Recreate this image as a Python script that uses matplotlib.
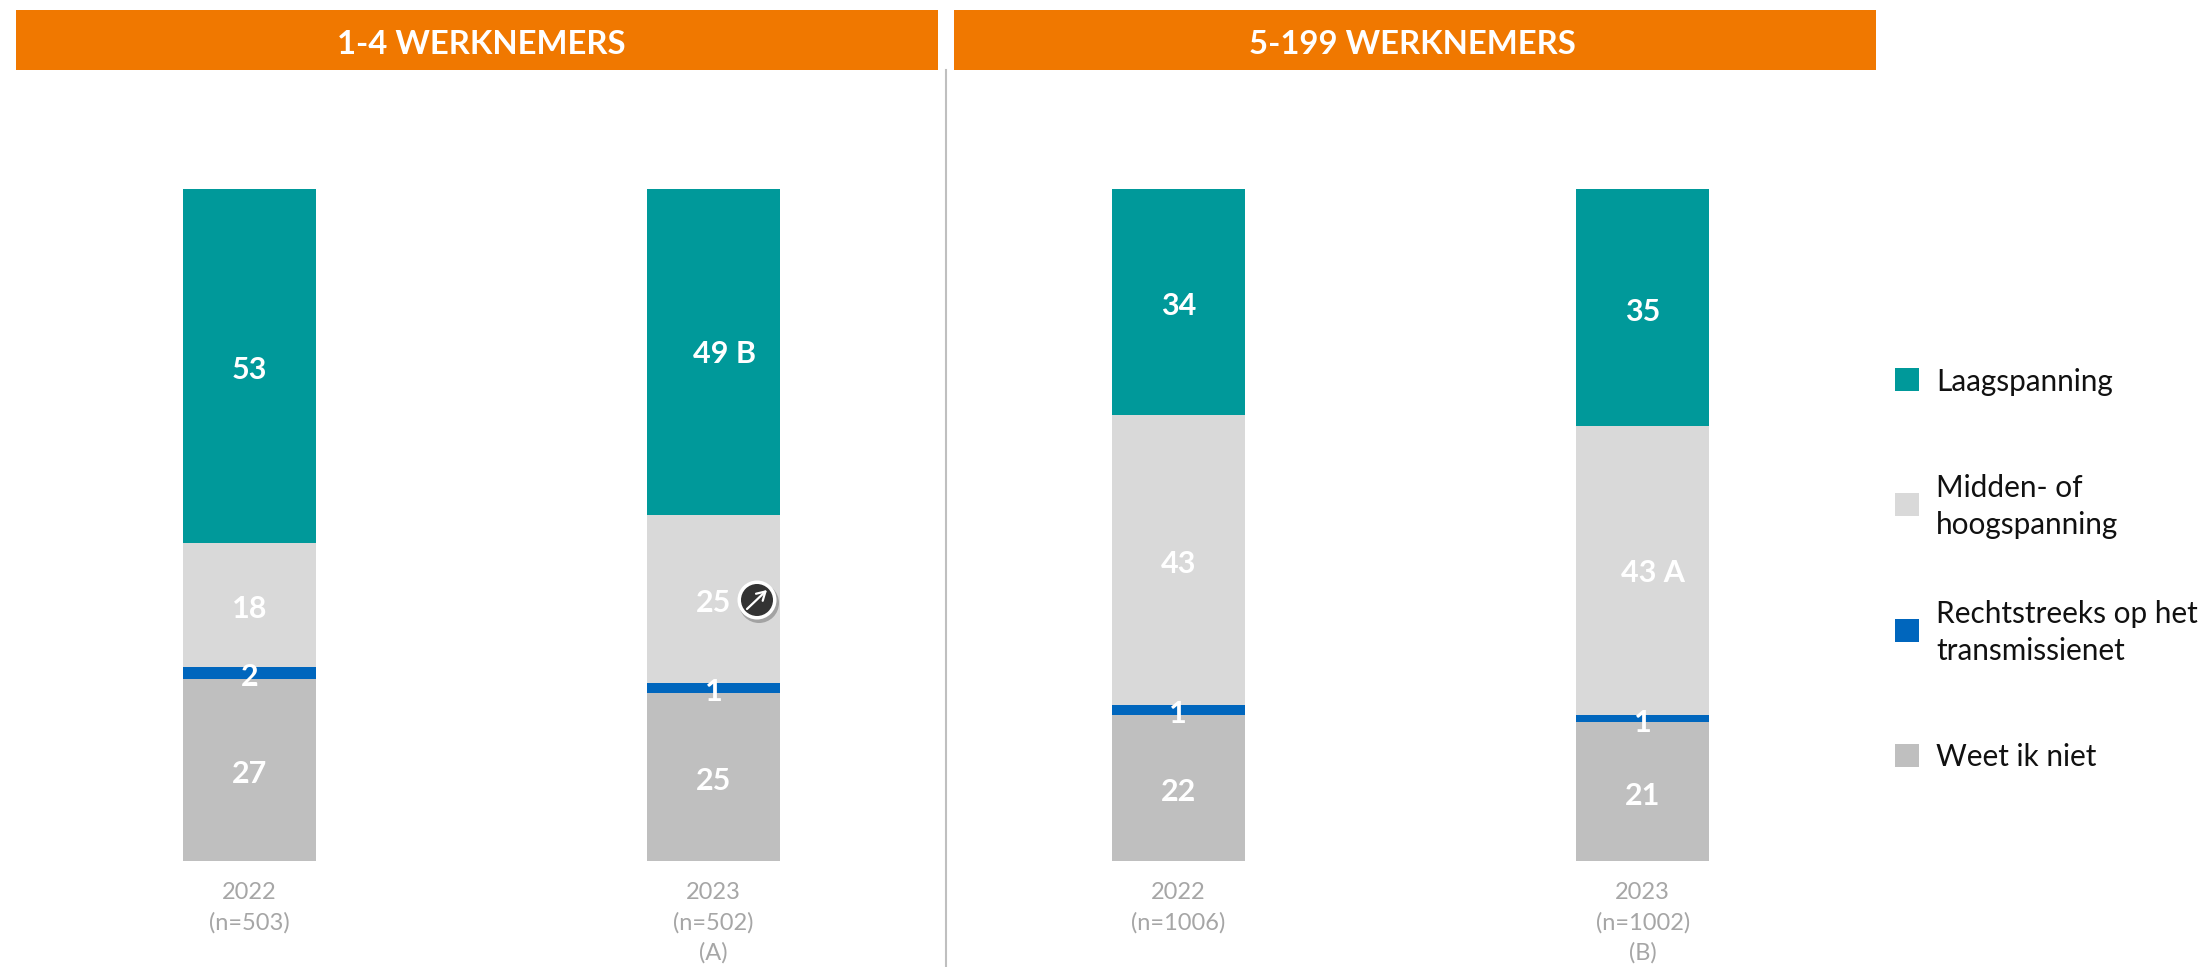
#!/usr/bin/env python3

import matplotlib

matplotlib.use("Agg")

import matplotlib.pyplot as plt
from matplotlib.patches import Circle, Rectangle

plt.rcParams["font.family"] = ["Lato", "DejaVu Sans"]

W, H = 2198, 967

tick_labels = ["2022\n(n=503)", "2023\n(n=502)\n(A)", "2022\n(n=1006)", "2023\n(n=1002)\n(B)"]
series_names = ["Weet ik niet", "Rechtstreeks op het\ntransmissienet", "Midden- of\nhoogspanning", "Laagspanning"]
colors = ["#BFBFBF", "#0066BD", "#D9D9D9", "#00999A"]

# stacked bottom to top, heights
weet_niet = [27.1, 25.0, 21.7, 20.7]
transmissie = [1.8, 1.5, 1.5, 1.0]
midden = [18.4, 25.0, 43.2, 43.0]
laag = [52.7, 48.5, 33.6, 35.3]

weet_labels = ["27", "25", "22", "21"]
transmissie_labels = ["2", "1", "1", "1"]
midden_labels = ["18", "25", "43", "43 A"]
laag_labels = ["53", "49 B", "34", "35"]

headers = ["1-4 WERKNEMERS", "5-199 WERKNEMERS"]

ORANGE = "#F07800"
TICK_GREY = "#A6A6A6"


def main() -> None:
    fig = plt.figure(figsize=(W / 100, H / 100), dpi=100, facecolor="white")

    # bars live in their own axes, overlay below uses pixel coordinates
    ax = fig.add_axes([17 / W, 1 - 861 / H, (1875 - 17) / W, (861 - 189) / H])
    x = list(range(len(tick_labels)))
    bottom = [0.0] * len(x)
    rows = [
        (weet_niet, weet_labels),
        (transmissie, transmissie_labels),
        (midden, midden_labels),
        (laag, laag_labels),
    ]
    for (vals, labs), name, col in zip(rows, series_names, colors):
        bars = ax.bar(x, vals, width=0.286, bottom=bottom, color=col, label=name)
        anns = ax.bar_label(bars, labels=labs, label_type="center", color="white",
                            fontsize=22, fontweight="bold", zorder=5)
        for ann, lab in zip(anns, labs):
            # labels with a letter sit a bit to the right in the original
            ann.set_position((7.5 if " " in lab else 0, -1.5 if " " in lab else -3))
        bottom = [b + v for b, v in zip(bottom, vals)]

    ax.set_xlim(-0.5, 3.5)
    ax.set_ylim(0, 100)
    ax.set_xticks(x)
    ax.set_xticklabels(tick_labels, color=TICK_GREY, fontsize=17, linespacing=1.5)
    ax.tick_params(axis="x", length=0, pad=15)
    ax.set_yticks([])
    for spine in ax.spines.values():
        spine.set_visible(False)

    ov = fig.add_axes([0, 0, 1, 1], facecolor="none")
    ov.set_xlim(0, W)
    ov.set_ylim(H, 0)
    ov.axis("off")

    # header bands and divider
    for (x0, x1), text, cx in zip([(16, 938), (954, 1876)], headers, [481, 1412]):
        ov.add_patch(Rectangle((x0, 10), x1 - x0, 60, color=ORANGE, lw=0))
        ov.text(cx, 44, text, color="white", fontsize=23.7, fontweight="bold",
                ha="center", va="center")
    ov.plot([946, 946], [70, H], color="#BFBFBF", lw=1.5)

    # legend
    legend_y = [379.5, 504.5, 630.5, 755.5]
    for y, name, col in zip(legend_y, series_names[::-1], colors[::-1]):
        ov.add_patch(Rectangle((1895, y - 11.5), 24, 23, color=col, lw=0))
        ov.text(1936, y + 2, name, color="#111111", fontsize=21.4, ha="left", va="center",
                linespacing=1.36)

    # significance badge on the 2023 bar
    bx, by = 757, 600
    ov.add_patch(Circle((bx + 2, by + 3), 20, color="#8C8C8C", lw=0, alpha=0.7))
    ov.add_patch(Circle((bx, by), 19.5, color="white", lw=0))
    ov.add_patch(Circle((bx, by), 16, color="#333333", lw=0))
    ov.annotate("", xy=(bx + 10, by - 10), xytext=(bx - 10, by + 9),
                arrowprops=dict(arrowstyle="->,head_length=0.6,head_width=0.35", color="white", lw=1.6,
                                shrinkA=0, shrinkB=0))

    fig.savefig("out.png", dpi=100)
    plt.close(fig)


if __name__ == "__main__":
    main()
